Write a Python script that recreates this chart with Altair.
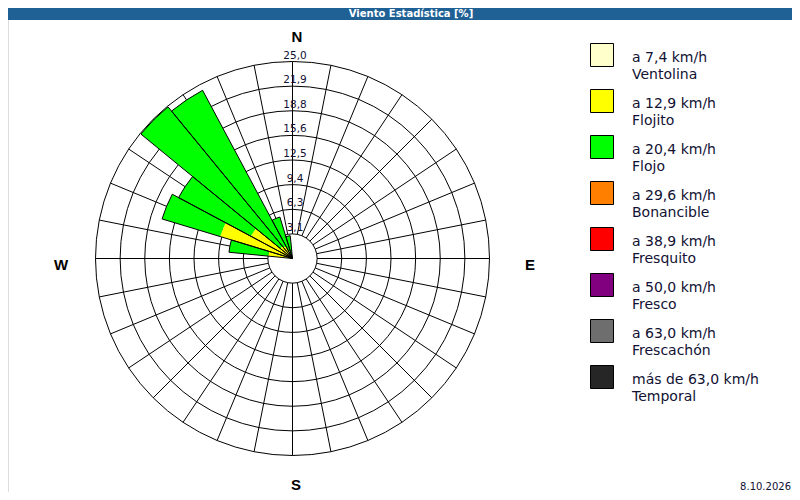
import math
import altair as alt
import pandas as pd

# ---------------- data ----------------
# wind directions (degrees, clockwise from north) that have data
directions = [281.25, 292.5, 303.75, 315.0, 326.25, 337.5, 348.75]
# frequency (%) per speed class for each direction above
ventolina = [0.0, 0.0, 0.0, 0.0, 0.0, 0.0, 0.0]
flojito = [3.1, 9.6, 6.0, 2.0, 1.8, 1.0, 0.3]
flojo = [5.0, 7.7, 10.4, 22.9, 22.4, 4.5, 2.6]
bonancible = [0.0, 0.0, 0.0, 0.0, 0.0, 0.0, 0.0]
fresquito = [0.0, 0.0, 0.0, 0.0, 0.0, 0.0, 0.0]
fresco = [0.0, 0.0, 0.0, 0.0, 0.0, 0.0, 0.0]
frescachon = [0.0, 0.0, 0.0, 0.0, 0.0, 0.0, 0.0]
temporal = [0.0, 0.0, 0.0, 0.0, 0.0, 0.0, 0.0]

class_speed = ["a 7,4 km/h", "a 12,9 km/h", "a 20,4 km/h", "a 29,6 km/h",
               "a 38,9 km/h", "a 50,0 km/h", "a 63,0 km/h", "más de 63,0 km/h"]
class_name = ["Ventolina", "Flojito", "Flojo", "Bonancible",
              "Fresquito", "Fresco", "Frescachón", "Temporal"]
class_color = ["#ffffcc", "#ffff00", "#00ff00", "#ff8000",
               "#ff0000", "#800080", "#6e6e6e", "#262626"]

ring_values = [3.125, 6.25, 9.375, 12.5, 15.625, 18.75, 21.875, 25.0]
ring_labels = ["3,1", "6,3", "9,4", "12,5", "15,6", "18,8", "21,9", "25,0"]
spoke_dirs = [i * 11.25 for i in range(32)]
sector = 11.25

title_text = "Viento Estadística [%]"
date_text = "8.10.2026"

# ---------------- layout ----------------
# the svg sits at page offset (8, 8); keep it inside the 800x500 window
W, H = 784, 484
CX, CY = 284.5, 250.5
R = 197.0
RMAX = ring_values[-1]
FONT = "DejaVu Sans"
TXT = "#111133"

rscale = alt.Scale(type="linear", domain=[0, RMAX], range=[0, R], zero=True)
xs = alt.Scale(type="linear", domain=[-RMAX, RMAX], range=[CX - R, CX + R])
ys = alt.Scale(type="linear", domain=[-RMAX, RMAX], range=[CY + R, CY - R])

series = [ventolina, flojito, flojo, bonancible, fresquito, fresco, frescachon, temporal]
rows, totals = [], []
for j, d in enumerate(directions):
    cum = 0.0
    for k, s in enumerate(series):
        v = s[j]
        if v > 0:
            rows.append({"dir": d, "r0": cum, "r1": cum + v, "color": class_color[k]})
            cum += v
    totals.append({"dir": d, "total": cum})
bars_df = pd.DataFrame(rows)
tot_df = pd.DataFrame(totals)
rings_df = pd.DataFrame({"v": ring_values, "label": ring_labels})
spokes_df = pd.DataFrame({"d": spoke_dirs})
legend_df = pd.DataFrame({"i": list(range(len(class_name))), "speed": class_speed,
                          "name": class_name, "color": class_color})
one = alt.Data(values=[{"k": 0}])

half = sector / 2

# rings
rings = alt.Chart(rings_df).mark_arc(
    filled=False, stroke="black", strokeWidth=1, theta=0, theta2=2 * math.pi + 0.01
).encode(
    x=alt.value(CX), y=alt.value(CY),
    radius=alt.Radius("v:Q", scale=rscale, stack=None),
)

# spokes
spokes = alt.Chart(spokes_df).transform_calculate(
    a="datum.d * PI / 180",
).transform_calculate(
    xa=f"{ring_values[0]} * sin(datum.a)", ya=f"{ring_values[0]} * cos(datum.a)",
    xb=f"{RMAX} * sin(datum.a)", yb=f"{RMAX} * cos(datum.a)",
).mark_rule(color="black", strokeWidth=1).encode(
    x=alt.X("xa:Q", scale=xs, axis=None), y=alt.Y("ya:Q", scale=ys, axis=None),
    x2="xb:Q", y2="yb:Q",
)

# bar segments
bars = alt.Chart(bars_df).transform_calculate(
    t0=f"(datum.dir - {half}) * PI / 180", t1=f"(datum.dir + {half}) * PI / 180"
).mark_arc(strokeWidth=0).encode(
    x=alt.value(CX), y=alt.value(CY),
    theta=alt.Theta("t0:Q", scale=None, stack=None), theta2="t1:Q",
    radius=alt.Radius("r1:Q", scale=rscale, stack=None), radius2="r0:Q",
    color=alt.Color("color:N", scale=None),
)

# bar outlines
outlines = alt.Chart(tot_df).transform_calculate(
    t0=f"(datum.dir - {half}) * PI / 180", t1=f"(datum.dir + {half}) * PI / 180"
).mark_arc(filled=False, stroke="black", strokeWidth=1).encode(
    x=alt.value(CX), y=alt.value(CY),
    theta=alt.Theta("t0:Q", scale=None, stack=None), theta2="t1:Q",
    radius=alt.Radius("total:Q", scale=rscale, stack=None),
)

# ring labels along the north spoke
ring_text = alt.Chart(rings_df).mark_text(
    font=FONT, fontSize=10.5, align="center", baseline="alphabetic", dx=2.5, dy=-3, color=TXT
).encode(
    x=alt.value(CX), y=alt.Y("v:Q", scale=ys, axis=None), text="label:N",
)

def label(txt, x, y, size=15, weight="bold", align="center", font="Liberation Sans", color="black"):
    return alt.Chart(one).mark_text(
        text=txt, font=font, fontSize=size, fontWeight=weight, align=align,
        baseline="alphabetic", color=color
    ).encode(x=alt.value(x), y=alt.value(y))

cardinals = [
    label("N", 289, 33.5),
    label("S", 288, 481.5),
    label("W", 53, 261.5),
    label("E", 522, 261.5),
]

# legend
leg_rect = alt.Chart(legend_df).transform_calculate(
    y0="35.5 + 46 * datum.i", y1="58.5 + 46 * datum.i"
).mark_rect(stroke="black", strokeWidth=1).encode(
    x=alt.value(582.5), x2=alt.value(605.5),
    y=alt.Y("y0:Q", scale=None, axis=None), y2="y1:Q",
    color=alt.Color("color:N", scale=None),
)
leg_t1 = alt.Chart(legend_df).transform_calculate(
    ty="53.7 + 46 * datum.i"
).mark_text(font=FONT, fontSize=14, align="left", baseline="alphabetic", color=TXT).encode(
    x=alt.value(624), y=alt.Y("ty:Q", scale=None, axis=None), text="speed:N"
)
leg_t2 = alt.Chart(legend_df).transform_calculate(
    ty="71.3 + 46 * datum.i"
).mark_text(font=FONT, fontSize=14, align="left", baseline="alphabetic", color=TXT).encode(
    x=alt.value(624), y=alt.Y("ty:Q", scale=None, axis=None), text="name:N"
)

# header bar, title and date
header = alt.Chart(one).mark_rect(color="#1f6095").encode(
    x=alt.value(0), x2=alt.value(W), y=alt.value(0), y2=alt.value(12)
)
title = label(title_text, 403, 9, size=10, weight="bold", font=FONT, color="white")
date = label(date_text, 783, 482, size=10, weight="normal", align="right", font=FONT, color=TXT)

chart = alt.layer(
    rings, spokes, bars, outlines, ring_text, *cardinals,
    leg_rect, leg_t1, leg_t2, header, title, date
).resolve_scale(
    x="independent", y="independent"
).properties(
    width=W, height=H, padding=0,
    autosize=alt.AutoSizeParams(type="none"),
).configure_view(stroke=None).configure(background="white")

chart.save("out.html", embed_options={"renderer": "svg", "actions": False})
